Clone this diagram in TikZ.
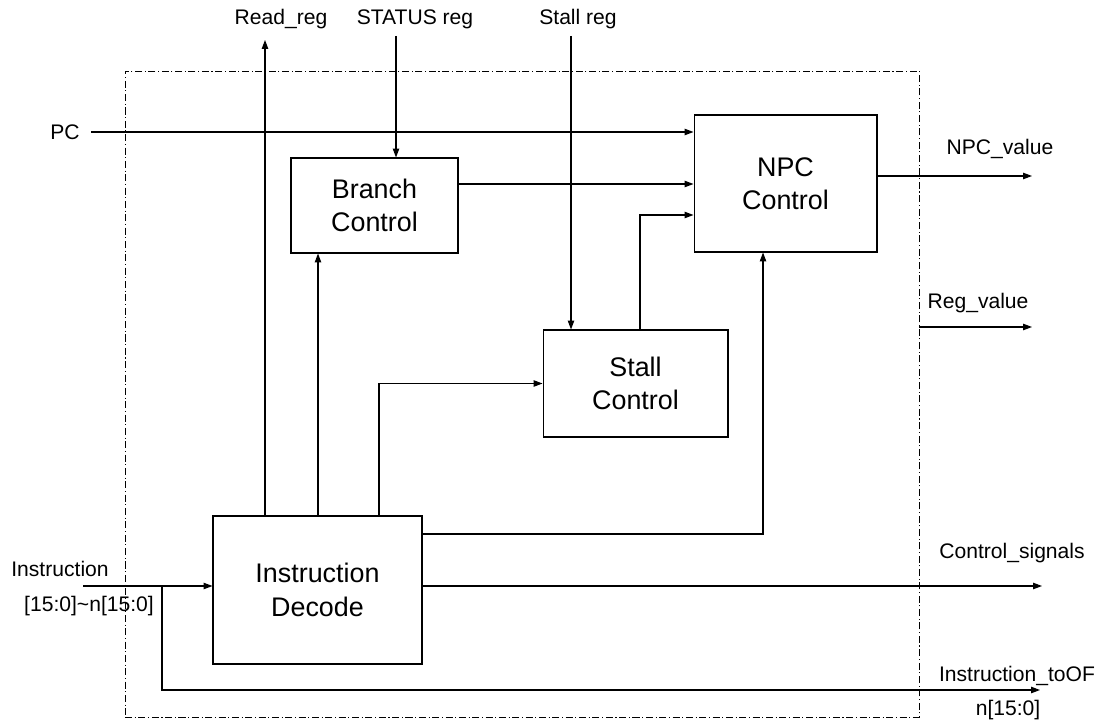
\documentclass[tikz,border=0pt]{standalone}
\usepackage{fontspec}
\setmainfont{Liberation Sans}
\usetikzlibrary{arrows.meta}

\begin{document}
\begin{tikzpicture}[x=0.02cm,y=-0.02cm,
  blk/.style={draw,line width=0.6pt,align=center,inner sep=0pt,font=\fontsize{15.3}{19}\selectfont},
  lbl/.style={inner sep=1pt,font=\fontsize{12}{14}\selectfont},
  sig/.style={line width=0.6pt},
  arr/.style={sig,-{Triangle[length=5pt,width=3.6pt]}},
  frame/.style={draw,line width=0.5pt,dash pattern=on 4pt off 1.5pt on 0.6pt off 1.5pt}]
\useasboundingbox (0,0) rectangle (1097,722);
\node[frame,minimum width=15.88cm,minimum height=12.92cm] (fr) at (522,394) {};
\node[blk,minimum width=3.34cm,minimum height=1.9cm] (bc) at (374.5,205.5) {Branch\\Control};
\node[blk,minimum width=3.66cm,minimum height=2.74cm] (npc) at (785.5,183.5) {NPC\\Control};
\node[blk,minimum width=3.7cm,minimum height=2.14cm] (sc) at (635.5,383.5) {Stall\\Control};
\node[blk,minimum width=4.18cm,minimum height=2.96cm] (id) at (317.5,590) {Instruction\\Decode};
\node[lbl] (rdreg) at (281,19) {Read\_reg};
\node[lbl] (streg) at (415,19) {STATUS reg};
\node[lbl] (slreg) at (578,19) {Stall reg};
\node[lbl] (pc) at (65,132) {PC};
\node[lbl] (instr) at (60,569) {Instruction};
\node[lbl] (irange) at (89,606) {[15:0]\textasciitilde n[15:0]};
\node[lbl] (npcv) at (1000,149) {NPC\_value};
\node[lbl] (regv) at (978,303) {Reg\_value};
\node[lbl] (ctls) at (1012,553) {Control\_signals};
\node[lbl] (tof) at (1017,676) {Instruction\_toOF};
\node[lbl] (tofr) at (1008,710) {n[15:0]};
\coordinate (rr) at (265,40);
\coordinate (st) at (396,36);
\coordinate (sr) at (571,36);
\coordinate (pcin) at (91,132);
\coordinate (b2n) at (458,184);
\coordinate (s2n) at (640,215);
\coordinate (i2) at (318,516);
\coordinate (i3) at (379,516);
\coordinate (i4) at (422,534);
\coordinate (inst) at (83,586);
\coordinate (tap) at (162,586);
\coordinate (nv) at (1032,176);
\coordinate (rv) at (1032,327);
\coordinate (cs) at (1042,586);
\coordinate (of) at (1040,690);
\draw[arr] (rr |- id.north) -- (rr);
\draw[arr] (st) -- (st |- bc.north);
\draw[arr] (sr) -- (sr |- sc.north);
\draw[arr] (pcin) -- (pcin -| npc.west);
\draw[arr] (b2n) -- (b2n -| npc.west);
\draw[arr] (s2n |- sc.north) -- (s2n) -- (s2n -| npc.west);
\draw[arr] (i2) -- (i2 |- bc.south);
\draw[arr] (i3) |- (sc.west);
\draw[arr] (i4) -| ([xshift=-12.8pt]npc.south);
\draw[arr] (inst) -- (inst -| id.west);
\draw[arr] (inst -| id.east) -- (cs);
\draw[arr] (tap) |- (of);
\draw[arr] (nv -| npc.east) -- (nv);
\draw[arr] (rv -| fr.east) -- (rv);
\end{tikzpicture}
\end{document}
